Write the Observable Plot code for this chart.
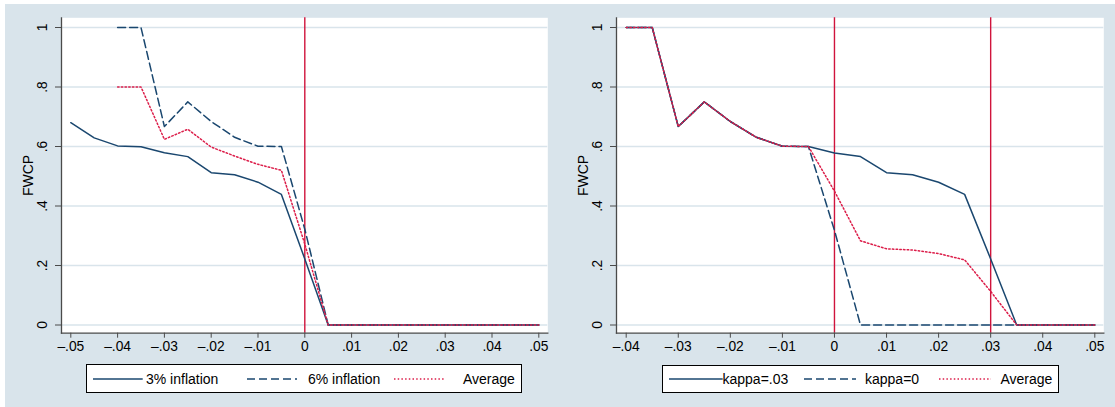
<!DOCTYPE html>
<html><head><meta charset="utf-8">
<script src="https://cdn.jsdelivr.net/npm/d3@7"></script>
<script src="https://cdn.jsdelivr.net/npm/@observablehq/plot@0.6"></script>
<style>
body{margin:0;background:#fff;font-family:"Liberation Sans",Arial,sans-serif;}
#wrap{position:relative;width:1115px;height:407px;overflow:hidden;}
#bg{position:absolute;left:5px;top:4px;right:0;bottom:0;background:#d9e4eb;}
.panel{position:absolute;top:0;}
.legend{position:absolute;background:#fff;border:1px solid #000;box-sizing:border-box;font-size:14px;color:#000;}
.legend span{position:absolute;top:50%;transform:translateY(-50%);white-space:nowrap;line-height:1;}
.legend svg{position:absolute;top:50%;margin-top:-2px;overflow:visible;}
</style></head><body><div id="wrap"><div id="bg"></div></div>
<script>
// ---- data ----
const xLeft3 = [-0.05,-0.045,-0.04,-0.035,-0.03,-0.025,-0.02,-0.015,-0.01,-0.005,0,0.005,0.01,0.015,0.02,0.025,0.03,0.035,0.04,0.045,0.05];
const infl3  = [0.68,0.629,0.602,0.599,0.579,0.566,0.512,0.505,0.48,0.439,0.222,0,0,0,0,0,0,0,0,0,0];
const xLeft6 = [-0.04,-0.035,-0.03,-0.025,-0.02,-0.015,-0.01,-0.005,0,0.005,0.01,0.015,0.02,0.025,0.03,0.035,0.04,0.045,0.05];
const infl6  = [1,1,0.667,0.75,0.684,0.631,0.601,0.6,0.322,0,0,0,0,0,0,0,0,0,0];
const avgLeft= [0.8,0.8,0.624,0.658,0.598,0.568,0.54,0.52,0.272,0,0,0,0,0,0,0,0,0,0];

const xRight  = [-0.04,-0.035,-0.03,-0.025,-0.02,-0.015,-0.01,-0.005,0,0.005,0.01,0.015,0.02,0.025,0.03,0.035,0.04,0.045,0.05];
const kappa03 = [1,1,0.667,0.75,0.684,0.631,0.601,0.6,0.578,0.566,0.512,0.505,0.48,0.439,0.222,0,0,0,0];
const kappa0  = [1,1,0.667,0.75,0.684,0.631,0.601,0.6,0.318,0,0,0,0,0,0,0,0,0,0];
const avgRight= [1,1,0.667,0.75,0.684,0.631,0.601,0.6,0.45,0.283,0.256,0.252,0.24,0.219,0.113,0,0,0,0];

const xTicksLeft  = [-0.05,-0.04,-0.03,-0.02,-0.01,0,0.01,0.02,0.03,0.04,0.05];
const xLabelsLeft = ["\u2013.05","\u2013.04","\u2013.03","\u2013.02","\u2013.01","0",".01",".02",".03",".04",".05"];
const xTicksRight  = [-0.04,-0.03,-0.02,-0.01,0,0.01,0.02,0.03,0.04,0.05];
const xLabelsRight = ["\u2013.04","\u2013.03","\u2013.02","\u2013.01","0",".01",".02",".03",".04",".05"];
const yTicks  = [0,0.2,0.4,0.6,0.8,1];
const yLabels = ["0",".2",".4",".6",".8","1"];
const xLinesLeft  = [0];
const xLinesRight = [0, 0.03];
const seriesLeft  = ["3% inflation","6% inflation","Average"];
const seriesRight = ["kappa=.03","kappa=0","Average"];
const yTitle = "FWCP";

// ---- styles ----
const NAVY = "#1a476f", RED = "#d0143c", DOT = "#dc1e4a", GRID = "#d9e4eb", AX = "#4a4a4a";
const DASH = "8,4", DOTS = "1.5,2.2";

function panel({width, marginLeft, marginRight, xDomain, xRange, xTicks, xLabels, xLines, series}) {
  const xl = new Map(xTicks.map((d,i)=>[d, xLabels[i]]));
  const yl = new Map(yTicks.map((d,i)=>[d, yLabels[i]]));
  return Plot.plot({
    width, height: 407,
    marginLeft, marginRight, marginTop: 17.3, marginBottom: 407 - 332.7,
    style: {background: "transparent", fontFamily: "Liberation Sans, Arial, sans-serif", fontSize: "13.8px", color: "#000", overflow: "visible"},
    x: {domain: xDomain, range: xRange},
    y: {domain: [0, 1], range: [324.5, 27]},
    marks: [
      Plot.frame({fill: "white", stroke: null}),
      Plot.gridY(yTicks, {stroke: GRID, strokeOpacity: 1, strokeWidth: 1.6}),
      Plot.ruleX(xLines, {stroke: RED, strokeWidth: 1.4}),
      ...series.map(s => Plot.line(s.y, {x: s.x, y: s.y, stroke: s.stroke, strokeWidth: 1.5, strokeDasharray: s.dash, curve: "linear"})),
      Plot.frame({anchor: "left", stroke: AX, strokeWidth: 1.3}),
      Plot.frame({anchor: "bottom", stroke: AX, strokeWidth: 1.3}),
      Plot.axisX(xTicks, {tickSize: 5, tickPadding: 3, stroke: AX, fontSize: 13.8, fill: "#000", tickFormat: d => xl.get(d)}),
      Plot.axisY(yTicks, {tickSize: 6, stroke: AX, tickFormat: () => ""}),
      Plot.text(yTicks, {y: d => d, text: d => yl.get(d), frameAnchor: "left", dx: -19, rotate: -90, textAnchor: "middle", fontSize: 13.8, fill: "#000"}),
      Plot.text([yTitle], {frameAnchor: "left", dx: -33, rotate: -90, textAnchor: "middle", fontSize: 14, fill: "#000"})
    ]
  });
}

const wrap = document.getElementById("wrap");

const left = panel({
  width: 557, marginLeft: 61, marginRight: 557 - 547.3,
  xDomain: [-0.05, 0.05], xRange: [70.3, 538.3],
  xTicks: xTicksLeft, xLabels: xLabelsLeft, xLines: xLinesLeft,
  series: [
    {x: xLeft3, y: infl3, stroke: NAVY, dash: null},
    {x: xLeft6, y: infl6, stroke: NAVY, dash: DASH},
    {x: xLeft6, y: avgLeft, stroke: DOT, dash: DOTS}
  ]
});
left.classList.add("panel"); left.style.left = "0px";
wrap.appendChild(left);

const right = panel({
  width: 558, marginLeft: 59, marginRight: 558 - 546.3,
  xDomain: [-0.04, 0.05], xRange: [68.7, 537.3],
  xTicks: xTicksRight, xLabels: xLabelsRight, xLines: xLinesRight,
  series: [
    {x: xRight, y: kappa03, stroke: NAVY, dash: null},
    {x: xRight, y: kappa0, stroke: NAVY, dash: DASH},
    {x: xRight, y: avgRight, stroke: DOT, dash: DOTS}
  ]
});
right.classList.add("panel"); right.style.left = "557px";
wrap.appendChild(right);

// ---- legends ----
function legend(box, names, items) {
  const div = document.createElement("div");
  div.className = "legend";
  Object.assign(div.style, {left: box.left + "px", top: box.top + "px", width: box.w + "px", height: box.h + "px"});
  const styles = [
    {stroke: NAVY, dash: ""},
    {stroke: NAVY, dash: DASH},
    {stroke: DOT, dash: DOTS}
  ];
  items.forEach((it, i) => {
    const st = styles[i];
    const len = it.l2 - it.l1;
    const svg = document.createElementNS("http://www.w3.org/2000/svg", "svg");
    svg.setAttribute("width", len); svg.setAttribute("height", 4);
    svg.style.left = it.l1 + "px";
    svg.innerHTML = `<line x1="0" y1="2" x2="${len}" y2="2" stroke="${st.stroke}" stroke-width="1.5" ${st.dash ? `stroke-dasharray="${st.dash}"` : ""}/>`;
    div.appendChild(svg);
    const sp = document.createElement("span");
    sp.textContent = names[i];
    sp.style.left = it.t + "px";
    div.appendChild(sp);
  });
  wrap.appendChild(div);
}
legend({left: 85.5, top: 364, w: 436, h: 29}, seriesLeft, [
  {l1: 6.3, l2: 56, t: 59.5},
  {l1: 160.5, l2: 210.5, t: 221.5},
  {l1: 307.5, l2: 357.5, t: 376.5}
]);
legend({left: 661.5, top: 364.5, w: 397, h: 28.5}, seriesRight, [
  {l1: 6.3, l2: 60, t: 60},
  {l1: 141.5, l2: 193.5, t: 202.5},
  {l1: 276.5, l2: 328.5, t: 338}
]);
</script></body></html>
